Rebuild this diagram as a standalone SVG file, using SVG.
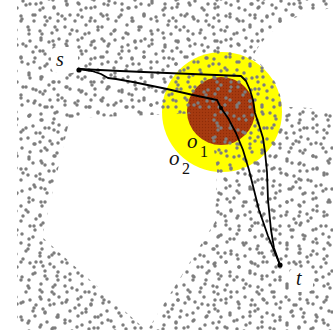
<svg xmlns="http://www.w3.org/2000/svg" width="333" height="330" viewBox="0 0 333 330">
<style>
.dot{fill:#7D7D7D}
.path{fill:none;stroke:#000;stroke-width:1.8;stroke-linejoin:round;stroke-linecap:round}
.lbl{font-family:"Liberation Serif","Times New Roman",serif;fill:#111}
.it{font-style:italic}
</style>
<defs>
<pattern id="p1" patternUnits="userSpaceOnUse" width="37" height="37">
<circle class="dot" cx="4" cy="3" r="1.75"/><circle class="dot" cx="17" cy="8" r="1.75"/><circle class="dot" cx="30" cy="4" r="1.75"/>
<circle class="dot" cx="8" cy="17" r="1.75"/><circle class="dot" cx="21" cy="21" r="1.75"/><circle class="dot" cx="33" cy="15" r="1.75"/>
<circle class="dot" cx="3" cy="31" r="1.75"/><circle class="dot" cx="15" cy="33" r="1.75"/><circle class="dot" cx="28" cy="27" r="1.75"/>
</pattern>
<pattern id="p2" patternUnits="userSpaceOnUse" x="7" y="3" width="41" height="41">
<circle class="dot" cx="6" cy="4" r="1.75"/><circle class="dot" cx="19" cy="2" r="1.75"/><circle class="dot" cx="33" cy="7" r="1.75"/>
<circle class="dot" cx="2" cy="15" r="1.75"/><circle class="dot" cx="14" cy="13" r="1.75"/><circle class="dot" cx="27" cy="18" r="1.75"/>
<circle class="dot" cx="38" cy="22" r="1.75"/><circle class="dot" cx="9" cy="27" r="1.75"/><circle class="dot" cx="22" cy="31" r="1.75"/>
<circle class="dot" cx="34" cy="35" r="1.75"/><circle class="dot" cx="5" cy="38" r="1.75"/>
</pattern>
<pattern id="p3" patternUnits="userSpaceOnUse" x="19" y="11" width="43" height="43">
<circle class="dot" cx="3" cy="8" r="1.75"/><circle class="dot" cx="16" cy="4" r="1.75"/><circle class="dot" cx="28" cy="10" r="1.75"/>
<circle class="dot" cx="39" cy="3" r="1.75"/><circle class="dot" cx="10" cy="19" r="1.75"/><circle class="dot" cx="23" cy="23" r="1.75"/>
<circle class="dot" cx="36" cy="16" r="1.75"/><circle class="dot" cx="4" cy="33" r="1.75"/><circle class="dot" cx="17" cy="36" r="1.75"/>
<circle class="dot" cx="30" cy="31" r="1.75"/><circle class="dot" cx="40" cy="28" r="1.75"/><circle class="dot" cx="24" cy="40" r="1.75"/>
</pattern>
<pattern id="stip" patternUnits="userSpaceOnUse" width="3" height="3">
<rect width="3" height="3" fill="#A63A10"/><circle cx="1.5" cy="1.5" r="0.7" fill="#8E2C08"/>
</pattern>
<mask id="freeMask" maskUnits="userSpaceOnUse" x="0" y="0" width="333" height="330">
<rect x="17" y="0" width="316" height="330" fill="#fff"/>
<polygon points="70,118 205,113 214,150 217,170 215,222 147,331 42,237" fill="#000"/>
<path d="M333,8 C320,10 305,13 290,20 C275,28 262,38 252,58 A60,60 0 0 1 282,107 C300,107 318,108 333,112 Z" fill="#000"/>
<rect x="51" y="47" width="27" height="26" rx="6" fill="#000"/>
<rect x="289" y="268" width="24" height="24" rx="6" fill="#000"/>
</mask>
</defs>
<rect width="333" height="330" fill="#fff"/>
<g id="o2"><circle cx="222" cy="112" r="60" fill="#FFFF00"/></g>
<g id="o1"><circle cx="221" cy="111" r="34" fill="url(#stip)"/></g>
<g id="points" mask="url(#freeMask)">
<rect width="333" height="330" fill="url(#p1)"/>
<rect width="333" height="330" fill="url(#p2)"/>
<rect width="333" height="330" fill="url(#p3)"/>
</g>
<g id="connectors">
<path class="path" d="M79,69 L120,71 L167,73 L241,76 L246,81 L250,90 L253,100 L255,113 L259,125 L263,138 L265,152 L267,172 L268,200 L271,230 L274,248 L280,265"/>
<path class="path" d="M79,69 L92,71 L101,74 L108,78 L116,79 L133,82 L167,89 L193,95 L217,100 L221,108 L228,118 L236,133 L243,150 L249,170 L254,190 L259,210 L268,236 L280,265"/>
</g>
<g id="node-s">
<circle cx="79" cy="70" r="2.6" fill="#000"/>
<text class="lbl it" x="56" y="66" font-size="20">s</text>
</g>
<g id="node-t">
<circle cx="280" cy="265" r="2.6" fill="#000"/>
<text class="lbl it" x="296" y="285" font-size="20">t</text>
</g>
<g id="center-o1"><circle cx="221" cy="108" r="2" fill="#000"/></g>
<g id="label-o1"><text class="lbl" x="187" y="148" font-size="21"><tspan class="it">o</tspan><tspan x="200" y="157" font-size="16">1</tspan></text></g>
<g id="label-o2"><text class="lbl" x="169" y="165" font-size="21"><tspan class="it">o</tspan><tspan x="182" y="174" font-size="16">2</tspan></text></g>
</svg>
